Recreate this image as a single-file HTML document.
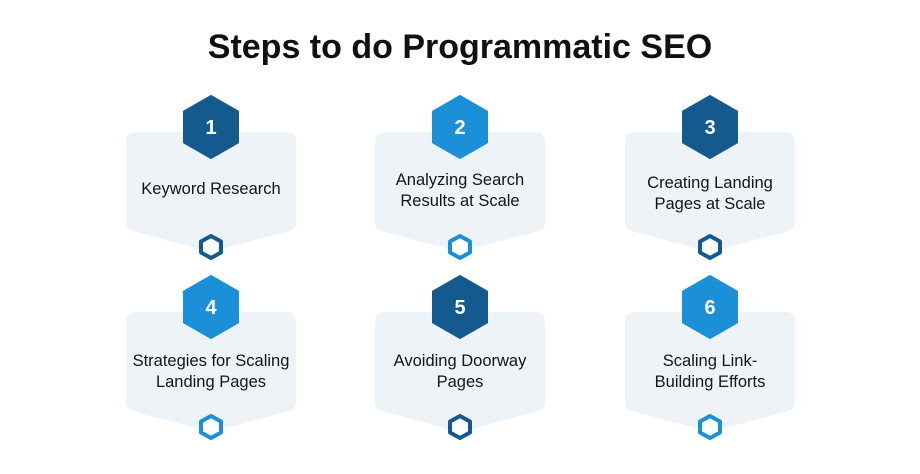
<!DOCTYPE html>
<html><head><meta charset="utf-8"><style>
html,body{margin:0;padding:0;background:#fff;}
svg{display:block;}
text{font-family:"Liberation Sans",Arial,sans-serif;}
</style></head><body>
<svg width="920" height="474" viewBox="0 0 920 474" xmlns="http://www.w3.org/2000/svg">
<text x="460" y="58" text-anchor="middle" font-size="34" font-weight="bold" fill="#111">Steps to do Programmatic SEO</text>
<defs>
<g id="card">
<path d="M-85,12 Q-85,2 -75,2 L75,2 Q85,2 85,12 L85,93 Q85,100 75,102 L0,122 L-75,102 Q-85,100 -85,93 Z" fill="#eef3f7"/>
</g>
</defs>
<g transform="translate(211,130)"><use href="#card"/></g>
<g transform="translate(460,130)"><use href="#card"/></g>
<g transform="translate(710,130)"><use href="#card"/></g>
<g transform="translate(211,310)"><use href="#card"/></g>
<g transform="translate(460,310)"><use href="#card"/></g>
<g transform="translate(710,310)"><use href="#card"/></g>

<g font-size="20" font-weight="bold" fill="#fff" text-anchor="middle">
<polygon points="211,96 238,111.5 238,142.5 211,158 184,142.5 184,111.5" fill="#155a8f" stroke="#155a8f" stroke-width="2" stroke-linejoin="round"/>
<text x="211" y="134">1</text>
<polygon points="460,96 487,111.5 487,142.5 460,158 433,142.5 433,111.5" fill="#1c8fd9" stroke="#1c8fd9" stroke-width="2" stroke-linejoin="round"/>
<text x="460" y="134">2</text>
<polygon points="710,96 737,111.5 737,142.5 710,158 683,142.5 683,111.5" fill="#155a8f" stroke="#155a8f" stroke-width="2" stroke-linejoin="round"/>
<text x="710" y="134">3</text>
<polygon points="211,276 238,291.5 238,322.5 211,338 184,322.5 184,291.5" fill="#1c8fd9" stroke="#1c8fd9" stroke-width="2" stroke-linejoin="round"/>
<text x="211" y="314">4</text>
<polygon points="460,276 487,291.5 487,322.5 460,338 433,322.5 433,291.5" fill="#155a8f" stroke="#155a8f" stroke-width="2" stroke-linejoin="round"/>
<text x="460" y="314">5</text>
<polygon points="710,276 737,291.5 737,322.5 710,338 683,322.5 683,291.5" fill="#1c8fd9" stroke="#1c8fd9" stroke-width="2" stroke-linejoin="round"/>
<text x="710" y="314">6</text>
</g>

<g fill="#fff" stroke-width="4" stroke-linejoin="round">
<polygon points="211,236 221,241.5 221,252.5 211,258 201,252.5 201,241.5" stroke="#155a8f"/>
<polygon points="460,236 470,241.5 470,252.5 460,258 450,252.5 450,241.5" stroke="#1c8fd9"/>
<polygon points="710,236 720,241.5 720,252.5 710,258 700,252.5 700,241.5" stroke="#155a8f"/>
<polygon points="211,416 221,421.5 221,432.5 211,438 201,432.5 201,421.5" stroke="#1c8fd9"/>
<polygon points="460,416 470,421.5 470,432.5 460,438 450,432.5 450,421.5" stroke="#155a8f"/>
<polygon points="710,416 720,421.5 720,432.5 710,438 700,432.5 700,421.5" stroke="#1c8fd9"/>
</g>

<g font-size="16.5" fill="#151515" text-anchor="middle">
<text x="211" y="194">Keyword Research</text>
<text x="460" y="185">Analyzing Search</text>
<text x="460" y="206">Results at Scale</text>
<text x="710" y="188">Creating Landing</text>
<text x="710" y="209">Pages at Scale</text>
<text x="211" y="366">Strategies for Scaling</text>
<text x="211" y="387">Landing Pages</text>
<text x="460" y="366">Avoiding Doorway</text>
<text x="460" y="387">Pages</text>
<text x="710" y="366">Scaling Link-</text>
<text x="710" y="387">Building Efforts</text>
</g>
</svg>
</body></html>
